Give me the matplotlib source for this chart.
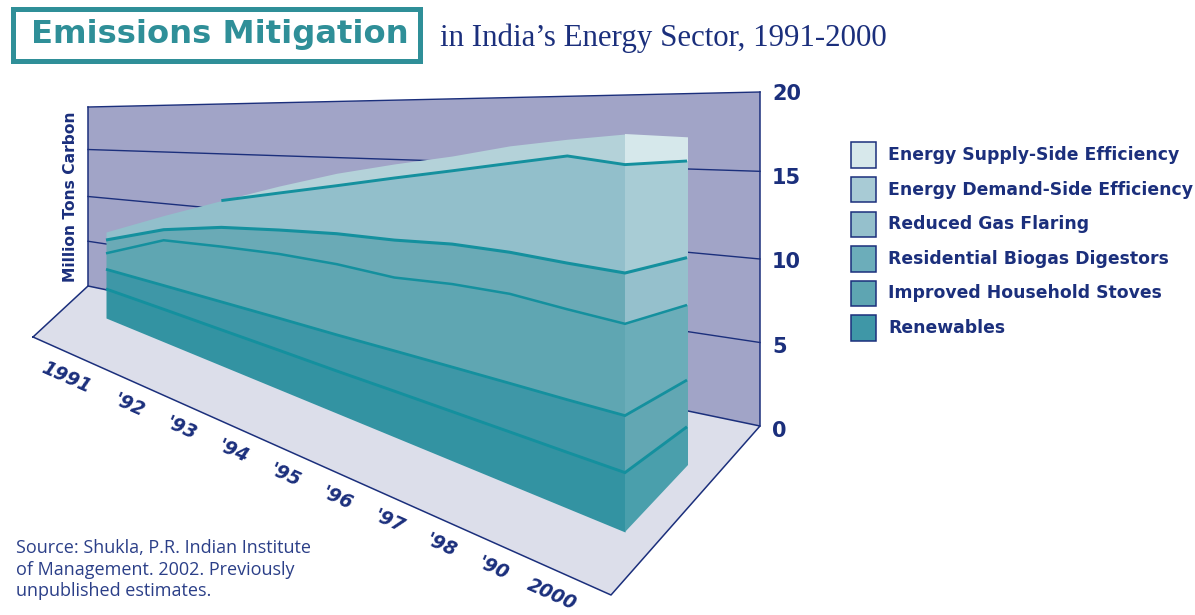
import numpy as np
import matplotlib
matplotlib.use("Agg")
import matplotlib.pyplot as plt

# stacked layers, million tons carbon, bottom layer first
years = ["1991", "'92", "'93", "'94", "'95", "'96", "'97", "'98", "'90", "2000"]
renewables = [2.64, 2.71, 2.75, 2.79, 2.81, 2.86, 2.89, 2.92, 2.94, 2.97]
stoves = [1.79, 1.98, 2.15, 2.29, 2.41, 2.52, 2.62, 2.70, 2.77, 2.85]
biogas = [1.45, 3.77, 4.25, 4.59, 4.71, 4.58, 4.88, 4.97, 4.76, 4.59]
flaring = [1.21, 0.88, 1.48, 1.71, 2.03, 2.34, 2.35, 2.31, 2.43, 2.54]
demand = [0.73, 1.18, 2.06, 2.64, 3.20, 3.88, 4.31, 4.94, 5.64, 5.42]
supply = [0.00, 0.00, 0.00, 0.50, 0.83, 0.88, 0.87, 0.97, 0.88, 1.53]
# the far end of the 2000 block, same order
far_end = [2.39, 2.92, 4.69, 2.96, 6.04, 1.48]

legend_names = ["Energy Supply-Side Efficiency", "Energy Demand-Side Efficiency",
                "Reduced Gas Flaring", "Residential Biogas Digestors",
                "Improved Household Stoves", "Renewables"]
wall_ticks = [0, 5, 10, 15, 20]
grid_levels = [5, 10, 15.25, 20]

NAVY = "#1b2f7c"
TEAL = "#2f8f98"
LINE = "#14909e"
WALL = "#a1a4c7"
FLOOR = "#dcdeea"
front_colors = ["#3393a2", "#3e97a7", "#5fa6b2", "#6aaab6", "#92bfcb", "#b4d2d9"]
side_colors = ["#4a9fac", "#62a7b3", "#6badb9", "#95c0cc", "#a8ccd5", "#d6e8eb"]
legend_colors = ["#d7e8eb", "#a8cbd5", "#95c0cc", "#6cadba", "#5ea5b2", "#3f97a7"]
line_widths = [2.1, 2.0, 1.8, 2.2, 2.1]
# the line on top of each layer starts where that layer's top shows
line_start = [0, 0, 0, 0, 2]


def wall_point(x, v):
    """wall gets taller towards the viewer on the right"""
    t = (x - 88) / (760 - 88)
    return 286 + 140 * t - v * (8.95 + 7.75 * t)


def front_point(i, v):
    t = np.asarray(i) / 9
    return 106 + 519 * t, 318 + 214 * t - v * (11 + 9 * t)


stack = np.array([renewables, stoves, biogas, flaring, demand, supply])
tops = np.cumsum(stack, axis=0)
far_tops = np.cumsum(far_end)
idx = np.arange(len(years))

fig = plt.figure(figsize=(11.95, 6.15), dpi=100)
ax = fig.add_axes([0, 0, 1, 1])
ax.set_xlim(0, 1195)
ax.set_ylim(615, 0)
ax.axis("off")

# back wall and floor
wx = np.array([88, 760])
ax.fill([88, 760, 760, 88], [wall_point(88, 0), wall_point(760, 0), wall_point(760, 20), wall_point(88, 20)],
        color=WALL, lw=0, zorder=1)
ax.fill([88, 760, 611, 33], [286, 426, 595, 337], color=FLOOR, lw=0, zorder=1)
for level in grid_levels:
    ax.plot(wx, wall_point(wx, level), color=NAVY, lw=1.0, zorder=2)
ax.plot([88, 88], [wall_point(88, 0), wall_point(88, 20)], color=NAVY, lw=1.1, zorder=2)
ax.plot([760, 760], [wall_point(760, 0), wall_point(760, 20)], color=NAVY, lw=1.1, zorder=2)
ax.plot([33, 88, 760, 611, 33], [337, 286, 426, 595, 337], color=NAVY, lw=1.1, zorder=2)

# layers, top one first so each lower one sits over it
for k in range(5, -1, -1):
    x, upper = front_point(idx, tops[k])
    _, lower = front_point(idx, tops[k - 1] if k else np.zeros(len(idx)))
    ax.fill_between(x, upper, lower, color=front_colors[k], lw=0, zorder=3)
    far_upper = 465 - far_tops[k] * 16
    far_lower = 465 - (far_tops[k - 1] * 16 if k else 0)
    ax.fill([x[-1], 688, 688, x[-1]], [upper[-1], far_upper, far_lower, lower[-1]],
            color=side_colors[k], lw=0, zorder=3)

for k in range(5):
    x, upper = front_point(idx, tops[k])
    s = line_start[k]
    ax.plot(np.append(x[s:], 687), np.append(upper[s:], 465 - far_tops[k] * 16), color=LINE,
            lw=line_widths[k], solid_joinstyle="miter", solid_capstyle="butt", zorder=4)

# value labels
for v, y in zip(wall_ticks[::-1], [94, 178, 262, 347, 431]):
    ax.text(772, y, str(v), color=NAVY, fontsize=15, fontweight="bold", ha="left", va="center",
            family="DejaVu Sans")

ax.text(71, 197, "Million Tons Carbon", color=NAVY, fontsize=11.2, fontweight="bold", rotation=90,
        ha="center", va="center", family="DejaVu Sans")

# year labels sit parallel to the front edge of the floor
nudge = [-11, 0, 0, 0, 0, 0, 0, 0, 0, 7]
for i, label in enumerate(years):
    ax.text(77 + 52 * i + nudge[i], 382 + 23.3 * i + nudge[i] * 0.4, label, color=NAVY, fontsize=13.5,
            fontweight="bold", fontstyle="italic", rotation=-24, rotation_mode="anchor",
            ha="center", va="center", family="DejaVu Sans")

# legend
for n, (name, col) in enumerate(zip(legend_names, legend_colors)):
    y = 155 + 34.6 * n
    ax.add_patch(plt.Rectangle((851, y - 12.7), 25, 25.4, facecolor=col, edgecolor=NAVY, lw=1.1, zorder=3))
    ax.text(888, y, name, color=NAVY, fontsize=12.4, fontweight="bold", ha="left", va="center",
            family="DejaVu Sans")

# title
ax.add_patch(plt.Rectangle((13.5, 8.5), 407, 52, facecolor="white", edgecolor=TEAL, lw=3.6, zorder=3))
ax.text(31, 35, "Emissions Mitigation", color=TEAL, fontsize=23.2, fontweight="bold", ha="left",
        va="center", family="DejaVu Sans", zorder=4)
ax.text(440, 46, "in India\u2019s Energy Sector, 1991-2000", color=NAVY, fontsize=22.2, ha="left",
        va="baseline", family="Liberation Serif")

ax.text(16, 548, "Source: Shukla, P.R. Indian Institute", color="#2b3f88", fontsize=13, ha="left",
        va="center", family="Open Sans")
ax.text(16, 570, "of Management. 2002. Previously", color="#2b3f88", fontsize=13, ha="left",
        va="center", family="Open Sans")
ax.text(16, 591, "unpublished estimates.", color="#2b3f88", fontsize=13, ha="left",
        va="center", family="Open Sans")

fig.savefig("out.png", dpi=100)
